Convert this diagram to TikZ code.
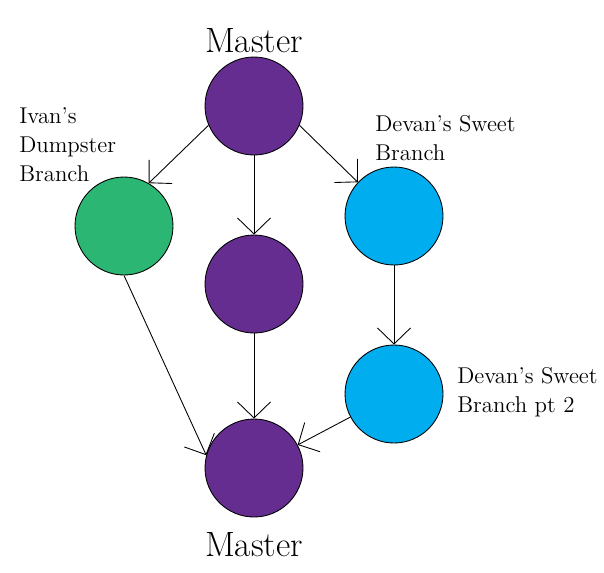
\documentclass[tikz,border=0pt]{standalone}
\usetikzlibrary{arrows.meta}

\definecolor{masterpurple}{RGB}{102,45,145}
\definecolor{ivangreen}{RGB}{44,182,116}
\definecolor{devanblue}{RGB}{0,173,239}

\begin{document}
\begin{tikzpicture}[
    x=0.02cm, y=-0.02cm,
    commit/.style={circle, draw=black, line width=0.5pt,
        minimum size=1.96cm, inner sep=0pt},
    master/.style={commit, fill=masterpurple},
    ivan/.style={commit, fill=ivangreen},
    devan/.style={commit, fill=devanblue},
    link/.style={line width=0.5pt, -{Straight Barb[length=0.32cm, width=0.66cm]}},
    tag/.style={inner sep=0pt, align=left, font=\fontsize{13}{16.5}\selectfont},
    title/.style={inner sep=0pt, font=\fontsize{20}{24}\selectfont}
]
    \useasboundingbox (0,0) rectangle (604,572);
    \node[master] (top) at (254,106) {};
    \node[ivan] (ivan) at (124,226) {};
    \node[master] (mid) at (254,284) {};
    \node[devan] (sweet) at (394,216) {};
    \node[devan] (sweettwo) at (394,394) {};
    \node[master] (bottom) at (254,468) {};
    \node[title, anchor=base] (toplabel) at (254,52) {Master};
    \node[title, anchor=base] (bottomlabel) at (254,556) {Master};
    % base of a multi-line node sits on its last line
    \node[tag, anchor=base west] (ivanlabel) at (19,181) {Ivan's\\Dumpster\\Branch};
    \node[tag, anchor=base west] (sweetlabel) at (375,160) {Devan's Sweet\\Branch};
    \node[tag, anchor=base west] (sweettwolabel) at (457,412) {Devan's Sweet\\Branch pt 2};
    \draw[link] (top.203) -- (ivan.60);
    \draw[link] (top) -- (mid);
    \draw[link] (top.337) -- (sweet.137);
    \draw[link] (ivan.south) -- (bottom.165);
    \draw[link] (mid) -- (bottom);
    \draw[link] (sweet) -- (sweettwo);
    \draw[link] (sweettwo) -- (bottom);
\end{tikzpicture}
\end{document}
